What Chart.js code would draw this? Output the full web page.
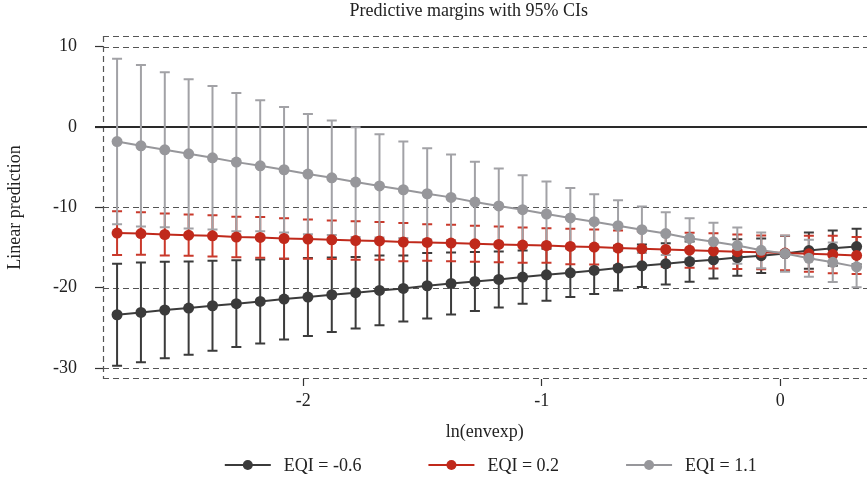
<!DOCTYPE html>
<html>
<head>
<meta charset="utf-8">
<script src="https://cdn.jsdelivr.net/npm/chart.js@4.4.1/dist/chart.umd.min.js"></script>
<style>
    html, body { margin: 0; padding: 0; background: #fff; overflow: hidden; }
    /* a few px wider than the window: the plot runs off the right edge like the Stata export */
    #wrap { width: 872px; height: 484px; position: relative; }
</style>
</head>
<body>
<div id="wrap"><canvas id="marginsChart"></canvas></div>
<script>
const lnEnvexp = [-2.78, -2.68, -2.58, -2.48, -2.38, -2.28, -2.18, -2.08, -1.98, -1.88,
    -1.78, -1.68, -1.58, -1.48, -1.38, -1.28, -1.18, -1.08, -0.98, -0.88,
    -0.78, -0.68, -0.58, -0.48, -0.38, -0.28, -0.18, -0.08, 0.02, 0.12,
    0.22, 0.32];

const seriesLabels = ['EQI = -0.6', 'EQI = 0.2', 'EQI = 1.1'];

const eqiLow = [-23.36, -23.07, -22.77, -22.53, -22.24, -21.99, -21.70, -21.41, -21.16, -20.87,
    -20.62, -20.34, -20.09, -19.75, -19.47, -19.22, -18.97, -18.67, -18.39, -18.14,
    -17.84, -17.55, -17.27, -17.02, -16.74, -16.52, -16.24, -16.01, -15.74, -15.37,
    -15.07, -14.87];
const eqiLowCi = [6.35, 6.21, 6.00, 5.80, 5.61, 5.40, 5.23, 5.03, 4.85, 4.63,
    4.45, 4.34, 4.10, 4.07, 3.85, 3.68, 3.49, 3.32, 3.23, 3.02,
    2.95, 2.79, 2.65, 2.57, 2.50, 2.32, 2.27, 2.15, 2.19, 2.25,
    2.20, 2.20];

const eqiMid = [-13.20, -13.25, -13.37, -13.45, -13.53, -13.69, -13.74, -13.87, -13.94, -14.03,
    -14.12, -14.17, -14.32, -14.36, -14.44, -14.53, -14.61, -14.69, -14.74, -14.86,
    -14.93, -15.06, -15.15, -15.23, -15.33, -15.41, -15.51, -15.59, -15.68, -15.77,
    -15.86, -15.98];
const eqiMidCi = [2.72, 2.65, 2.61, 2.57, 2.57, 2.52, 2.54, 2.51, 2.45, 2.40,
    2.40, 2.36, 2.37, 2.28, 2.27, 2.24, 2.23, 2.19, 2.16, 2.20,
    2.18, 2.19, 2.18, 2.17, 2.17, 2.20, 2.15, 2.10, 2.15, 2.25,
    2.32, 2.30];

const eqiHigh = [-1.80, -2.33, -2.83, -3.33, -3.82, -4.36, -4.82, -5.31, -5.85, -6.31,
    -6.84, -7.32, -7.80, -8.30, -8.75, -9.33, -9.82, -10.28, -10.82, -11.31,
    -11.77, -12.27, -12.77, -13.26, -13.85, -14.26, -14.75, -15.34, -15.75, -16.33,
    -16.83, -17.40];
const eqiHighCi = [10.31, 10.06, 9.65, 9.28, 8.94, 8.61, 8.16, 7.82, 7.49, 7.12,
    6.83, 6.42, 6.00, 5.68, 5.34, 5.01, 4.67, 4.30, 4.05, 3.72,
    3.40, 3.17, 2.90, 2.65, 2.50, 2.35, 2.25, 2.22, 2.25, 2.31,
    2.45, 2.53];

const yTicks = [10, 0, -10, -20, -30];
const xTicks = [-2, -1, 0];

const FONT = '"Liberation Serif", "Times New Roman", serif';
const INK = '#222';

function points(values) {
    return values.map((v, i) => ({ x: lnEnvexp[i], y: v }));
}

// dashed frame + gridlines, solid zero line
const framePlugin = {
    id: 'frame',
    beforeDatasetsDraw(chart) {
        const { ctx, chartArea: a, scales: { y } } = chart;
        const right = chart.width;
        ctx.save();
        ctx.strokeStyle = '#555';
        ctx.lineWidth = 1.2;
        ctx.setLineDash([6, 4]);
        const hline = (py) => {
            ctx.beginPath();
            ctx.moveTo(a.left, py);
            ctx.lineTo(right, py);
            ctx.stroke();
        };
        yTicks.filter(v => v !== 0).forEach(v => hline(Math.round(y.getPixelForValue(v)) + 0.5));
        hline(a.top + 0.5);
        hline(a.bottom - 0.5);
        ctx.beginPath();
        ctx.moveTo(a.left + 0.5, a.top);
        ctx.lineTo(a.left + 0.5, a.bottom);
        ctx.stroke();

        ctx.setLineDash([]);
        ctx.strokeStyle = '#2a2a2a';
        ctx.lineWidth = 2;
        const zy = Math.round(y.getPixelForValue(0));
        ctx.beginPath();
        ctx.moveTo(a.left - 8, zy);
        ctx.lineTo(right, zy);
        ctx.stroke();
        ctx.restore();
    }
};

// 95% CI caps
const errorBarPlugin = {
    id: 'errorBars',
    beforeDatasetsDraw(chart) {
        const { ctx, scales: { x, y } } = chart;
        ctx.save();
        chart.data.datasets.forEach(ds => {
            ctx.strokeStyle = ds.ciColor;
            ctx.lineWidth = 2;
            ds.data.forEach((p, i) => {
                const px = x.getPixelForValue(p.x);
                const top = y.getPixelForValue(p.y + ds.ci[i]);
                const bot = y.getPixelForValue(p.y - ds.ci[i]);
                ctx.beginPath();
                ctx.moveTo(px, top);
                ctx.lineTo(px, bot);
                ctx.moveTo(px - 5, top);
                ctx.lineTo(px + 5, top);
                ctx.moveTo(px - 5, bot);
                ctx.lineTo(px + 5, bot);
                ctx.stroke();
            });
        });
        ctx.restore();
    }
};

// chart title and bottom legend, Stata style
const textPlugin = {
    id: 'stataText',
    afterDraw(chart) {
        const { ctx, chartArea: a } = chart;
        const mid = (a.left + a.right) / 2;
        ctx.save();
        ctx.fillStyle = INK;
        ctx.font = '18px ' + FONT;
        ctx.textAlign = 'center';
        ctx.textBaseline = 'alphabetic';
        ctx.fillText('Predictive margins with 95% CIs', mid - 16, 16);

        const symW = 46, textGap = 13, itemGap = 67;
        const items = chart.data.datasets.map(ds => ({ ds, w: ctx.measureText(ds.label).width }));
        const total = items.reduce((s, it) => s + symW + textGap + it.w, 0) + itemGap * (items.length - 1);
        let lx = mid + 6 - total / 2;
        const ly = chart.height - 19;
        ctx.textAlign = 'left';
        ctx.textBaseline = 'middle';
        items.forEach(it => {
            ctx.strokeStyle = it.ds.borderColor;
            ctx.lineWidth = 2;
            ctx.beginPath();
            ctx.moveTo(lx, ly);
            ctx.lineTo(lx + symW, ly);
            ctx.stroke();
            ctx.fillStyle = it.ds.borderColor;
            ctx.beginPath();
            ctx.arc(lx + symW / 2, ly, 5, 0, Math.PI * 2);
            ctx.fill();
            ctx.fillStyle = INK;
            ctx.fillText(it.ds.label, lx + symW + textGap, ly + 1);
            lx += symW + textGap + it.w + itemGap;
        });
        ctx.restore();
    }
};

function series(label, values, ci, color, ciColor, order) {
    return {
        label: label,
        data: points(values),
        ci: ci,
        ciColor: ciColor,
        order: order,
        borderColor: color,
        backgroundColor: color,
        borderWidth: 2,
        pointRadius: 5.5,
        pointBorderWidth: 0,
        pointBackgroundColor: color,
        tension: 0,
        clip: false
    };
}

document.addEventListener('DOMContentLoaded', function() {
    const ctx = document.getElementById('marginsChart').getContext('2d');

    new Chart(ctx, {
        type: 'line',
        data: {
            datasets: [
                series(seriesLabels[0], eqiLow, eqiLowCi, '#3b3b3b', '#3b3b3b', 2),
                series(seriesLabels[1], eqiMid, eqiMidCi, '#c0291b', '#c9392b', 1),
                series(seriesLabels[2], eqiHigh, eqiHighCi, '#97979b', '#a2a2a6', 0)
            ]
        },
        options: {
            responsive: true,
            maintainAspectRatio: false,
            animation: false,
            layout: {
                padding: { top: 36, bottom: 35, left: 0, right: 0 }
            },
            plugins: {
                legend: { display: false },
                title: { display: false },
                tooltip: { enabled: false }
            },
            scales: {
                x: {
                    type: 'linear',
                    min: -2.839,
                    max: 0.3615,
                    afterBuildTicks: s => { s.ticks = xTicks.map(v => ({ value: v })); },
                    afterFit: s => { s.height = 70; },
                    border: { display: false },
                    grid: {
                        drawOnChartArea: false,
                        drawTicks: true,
                        tickLength: 7,
                        tickColor: '#333',
                        tickWidth: 1.2
                    },
                    ticks: {
                        autoSkip: false,
                        maxRotation: 0,
                        padding: 4,
                        color: INK,
                        font: { family: FONT, size: 18 },
                        callback: v => String(v)
                    },
                    title: {
                        display: true,
                        text: 'ln(envexp)',
                        color: INK,
                        font: { family: FONT, size: 18 },
                        padding: { top: 0, bottom: 6 }
                    }
                },
                y: {
                    type: 'linear',
                    min: -31.36,
                    max: 11.34,
                    afterBuildTicks: s => { s.ticks = yTicks.map(v => ({ value: v })); },
                    afterFit: s => { s.width = 103; },
                    border: { display: false },
                    grid: {
                        drawOnChartArea: false,
                        drawTicks: true,
                        tickLength: 8,
                        tickColor: '#333',
                        tickWidth: 1.2
                    },
                    ticks: {
                        padding: 18,
                        color: INK,
                        font: { family: FONT, size: 18 },
                        callback: v => String(v)
                    },
                    title: {
                        display: true,
                        text: 'Linear prediction',
                        color: INK,
                        font: { family: FONT, size: 18 },
                        padding: { top: 4, bottom: 0 }
                    }
                }
            }
        },
        plugins: [framePlugin, errorBarPlugin, textPlugin]
    });
});
</script>
</body>
</html>
